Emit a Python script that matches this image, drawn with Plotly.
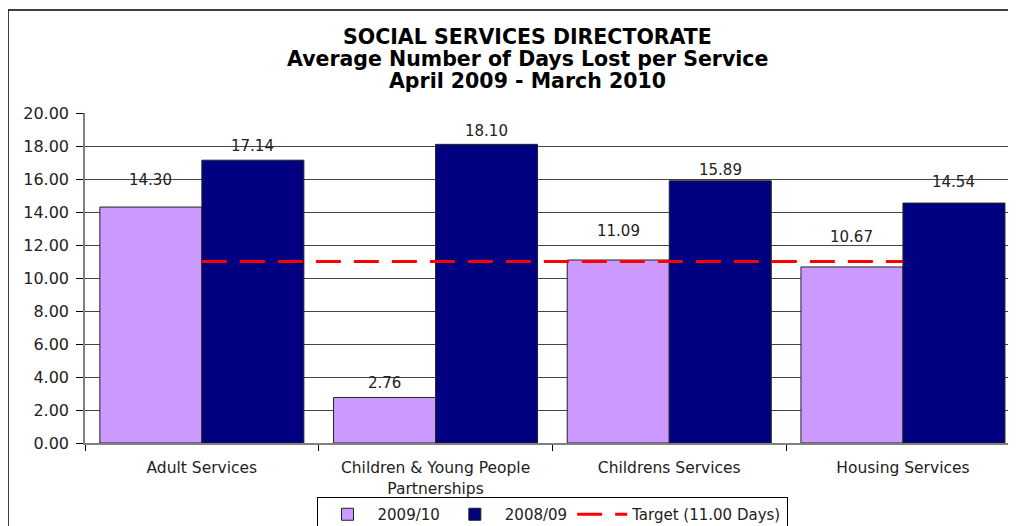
import plotly.graph_objects as go

categories = ["Adult Services", "Children & Young People<br>Partnerships", "Childrens Services", "Housing Services"]
values_2009_10 = [14.30, 2.76, 11.09, 10.67]
values_2008_09 = [17.14, 18.10, 15.89, 14.54]
target_value = 11.00
series_names = ["2009/10", "2008/09", "Target (11.00 Days)"]
title_lines = ["SOCIAL SERVICES DIRECTORATE", "Average Number of Days Lost per Service", "April 2009 - March 2010"]

# style (page body has an 8px margin, so the figure is drawn 8px in from the window corner)
OFF = 8
label_shift_a = [27, 14, 29, 30]
label_shift_b = [14, 13, 11, 21]
title_line_y = [37, 59, 81]
FONT = "DejaVu Sans"
W, H = 1016 - OFF, 526 - OFF
L, T = 85 - OFF, 113 - OFF
plot_w = 931
plot_h = 330
B = H - T - plot_h
bargap = 0.127
half_bar = (1 - bargap) / 4
cat_px = 233.7


def px_x(x):
    return (x - OFF - L) / plot_w


def px_y(y):
    return (H - B - (y - OFF)) / plot_h


fig = go.Figure()
fig.add_trace(go.Bar(x=categories, y=values_2009_10, name=series_names[0],
                     marker=dict(color="#CC99FF", line=dict(color="#222222", width=1))))
fig.add_trace(go.Bar(x=categories, y=values_2008_09, name=series_names[1],
                     marker=dict(color="#000080", line=dict(color="#222222", width=1))))
fig.add_trace(go.Scatter(x=categories, y=[target_value] * len(categories), name=series_names[2],
                         mode="lines", line=dict(color="#FF0000", width=3, dash="25px,13px")))

annotations = []
for i, (va, vb) in enumerate(zip(values_2009_10, values_2008_09)):
    annotations.append(dict(x=i - half_bar, y=va, xref="x", yref="y", text=f"{va:.2f}",
                            showarrow=False, yanchor="middle", yshift=label_shift_a[i],
                            font=dict(family=FONT, size=15, color="#222222")))
    annotations.append(dict(x=i + half_bar, y=vb, xref="x", yref="y", text=f"{vb:.2f}",
                            showarrow=False, yanchor="middle", yshift=label_shift_b[i],
                            font=dict(family=FONT, size=15, color="#222222")))
for line, ly in zip(title_lines, title_line_y):
    annotations.append(dict(x=px_x(527), xref="paper", y=px_y(ly), yref="paper",
                            text=f"<b>{line}</b>", showarrow=False, xanchor="center", yanchor="middle",
                            font=dict(family="DejaVu Sans", size=20.5, color="#000000")))

fig.update_layout(
    width=W, height=H,
    margin=dict(l=L, r=0, t=T, b=B, pad=0, autoexpand=False),
    paper_bgcolor="white", plot_bgcolor="white",
    barmode="group", bargap=bargap, bargroupgap=0,
    xaxis=dict(type="category", range=[-0.5, -0.5 + (W - L) / cat_px],
               showline=True, linecolor="#808080",
               linewidth=1.5, ticks="outside", tickson="boundaries", ticklen=6, tickcolor="#000000",
               showgrid=False, automargin=False, ticklabelstandoff=10,
               tickfont=dict(family=FONT, size=15.5, color="#222222")),
    yaxis=dict(range=[0, 20], dtick=2, tickformat=".2f", showline=True, linecolor="#808080",
               linewidth=1.5, ticks="outside", ticklen=7, tickcolor="#000000", automargin=False,
               ticklabelstandoff=4,
               showgrid=True, gridcolor="#444444", gridwidth=1, zeroline=False,
               tickfont=dict(family=FONT, size=16, color="#222222")),
    legend=dict(orientation="h", xref="container", x=(552 - OFF) / W, xanchor="center",
                yref="container", y=(H - (497 - OFF)) / H, yanchor="top", bordercolor="#000000", borderwidth=1,
                itemwidth=50, tracegroupgap=0,
                font=dict(family=FONT, size=15, color="#222222"), bgcolor="white"),
    annotations=annotations,
    shapes=[dict(type="rect", xref="paper", yref="paper",
                 x0=px_x(8), y0=px_y(10), x1=1.2, y1=-0.6,
                 line=dict(color="#000000", width=1.5), layer="below")],
    showlegend=True,
)

fig.write_html("out.html")
